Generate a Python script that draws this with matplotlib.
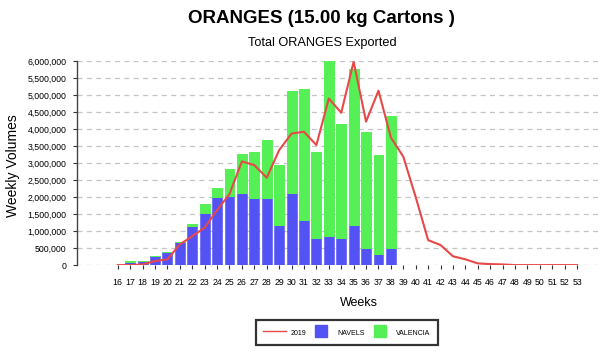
import matplotlib
matplotlib.use("Agg")
import matplotlib.pyplot as plt
from matplotlib.ticker import FuncFormatter, MultipleLocator
from matplotlib.lines import Line2D

plt.rcParams["font.family"] = ["Liberation Sans", "DejaVu Sans"]

weeks = list(range(16, 54))
navels = [0, 80e3, 110e3, 265e3, 400e3, 667e3, 1.157e6, 1.53e6, 1.99e6, 2.04e6,
          2.11e6, 1.98e6, 1.98e6, 1.19e6, 2.11e6, 1.32e6, 0.80e6, 0.85e6, 0.81e6,
          1.17e6, 0.49e6, 0.34e6, 0.51e6] + [0] * 15
valencia = [0, 45e3, 0, 0, 0, 0, 58e3, 0.27e6, 0.28e6, 0.80e6,
            1.16e6, 1.35e6, 1.69e6, 1.74e6, 3.02e6, 3.86e6, 2.52e6, 5.15e6, 3.35e6,
            4.59e6, 3.43e6, 2.91e6, 3.86e6] + [0] * 15
y2019 = [0, 0, 20e3, 120e3, 170e3, 610e3, 0.85e6, 1.10e6, 1.62e6, 2.09e6,
         3.05e6, 2.94e6, 2.57e6, 3.38e6, 3.87e6, 3.92e6, 3.53e6, 4.90e6, 4.48e6,
         5.98e6, 4.22e6, 5.13e6, 3.75e6, 3.19e6, 2.0e6, 0.735e6, 0.59e6, 0.26e6,
         0.17e6, 0.05e6, 0.03e6, 0.02e6, 0, 0, 0, 0, 0, 0]

BLUE = "#5252F5"
GREEN = "#55F055"
RED = "#E84848"

fig = plt.figure(figsize=(6, 3.53), dpi=100)
ax = fig.add_axes([0.128, 0.249, 0.869, 0.578])

ax.bar(weeks, navels, width=0.8, color=BLUE, edgecolor=BLUE, linewidth=0.4, zorder=2)
ax.bar(weeks, valencia, width=0.8, bottom=navels, color=GREEN, edgecolor=GREEN,
       linewidth=0.7, zorder=2)
ax.plot(weeks, y2019, color=RED, linewidth=1.5, zorder=3)

ax.set_xlim(12.7, 54.7)
ax.set_ylim(0, 6.0e6)
ax.yaxis.set_major_locator(MultipleLocator(500000))
ax.yaxis.set_major_formatter(FuncFormatter(lambda v, p: f"{int(v):,}"))
ax.set_xticks(weeks)
ax.set_xticklabels([str(w) for w in weeks])
ax.tick_params(axis="x", labelsize=6.3, length=3, width=0.8, color="#333333", pad=6)
ax.tick_params(axis="y", labelsize=6.3, length=3, width=0.8, color="#333333", pad=4.3)
ax.grid(axis="y", linestyle=(0, (4, 3.5)), color="#C4C4C4", linewidth=0.9, zorder=0)
ax.set_axisbelow(True)
for s in ["top", "right", "bottom"]:
    ax.spines[s].set_visible(False)
ax.spines["left"].set_color("#444444")
ax.spines["left"].set_linewidth(1.0)

ax.set_ylabel("Weekly Volumes", fontsize=10)
ax.yaxis.set_label_coords(-0.108, 0.49)
ax.set_xlabel("Weeks", fontsize=9)
ax.xaxis.set_label_coords(0.541, -0.155)

fig.text(0.535, 0.948, "ORANGES (15.00 kg Cartons )", ha="center", va="center",
         fontsize=13.5, fontweight="bold")
fig.text(0.537, 0.877, "Total ORANGES Exported", ha="center", va="center", fontsize=9.2)

handles = [Line2D([0], [0], color=RED, linewidth=1.0),
           Line2D([0], [0], color=BLUE, marker="s", linestyle="none", markersize=9),
           Line2D([0], [0], color=GREEN, marker="s", linestyle="none", markersize=9)]
leg = fig.legend(handles, ["2019", "NAVELS", "VALENCIA"], loc="center",
                 bbox_to_anchor=(0.578, 0.058), ncol=3, fontsize=5, frameon=True,
                 fancybox=False, edgecolor="black", handlelength=3.3,
                 handleheight=2.0, handletextpad=0.7, columnspacing=0.5,
                 borderpad=1.0)
leg.get_frame().set_linewidth(1.6)

fig.savefig("out.png", dpi=100)
